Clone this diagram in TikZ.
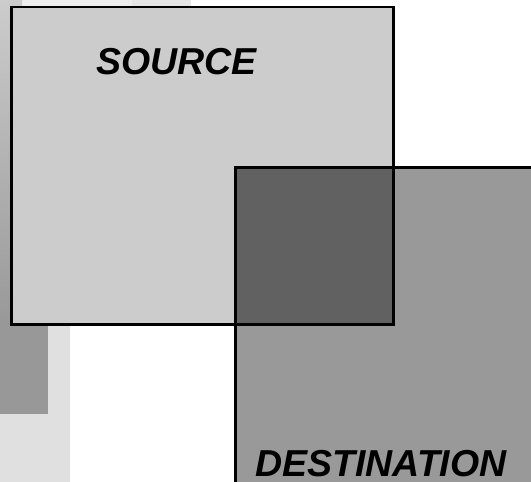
\documentclass[tikz,border=0pt]{standalone}
\usepackage{fontspec}
\setmainfont{Liberation Sans}
\definecolor{srcfill}{HTML}{CCCCCC}
\definecolor{dstfill}{HTML}{999999}
\definecolor{overlapfill}{HTML}{616161}
\definecolor{stripA}{HTML}{EEEEEE}
\definecolor{stripB}{HTML}{E6E6E6}
\definecolor{paleblock}{HTML}{E0E0E0}
\definecolor{darkblock}{HTML}{989898}
\definecolor{shadetop}{HTML}{CCCCCC}
\definecolor{shadebot}{HTML}{999999}
\begin{document}
\begin{tikzpicture}[x=1bp,y=-1bp,
  framebox/.style={draw=black,line width=2.5bp},
  caption/.style={inner sep=0pt,anchor=base west,font=\fontsize{37.5bp}{40bp}\selectfont\bfseries\itshape}]
\useasboundingbox (0,0) rectangle (531,482);
% background blocks
\fill[stripA] (22,0) rectangle (132,20);
\fill[stripB] (132,0) rectangle (191,20);
\fill[paleblock] (0,320) rectangle (70,482);
\shade[top color=shadetop,bottom color=shadebot] (0,0) rectangle (22,321);
\fill[darkblock] (0,320) rectangle (48,414);
% the two boxes and their overlap
\coordinate (s1) at (11.5,7);
\coordinate (s2) at (393.5,324.5);
\coordinate (d1) at (235.5,167.5);
\coordinate (d2) at (545,495);
\fill[srcfill] (s1) rectangle (s2);
\fill[dstfill] (d1) rectangle (d2);
\fill[overlapfill] (d1) rectangle (s2);
\draw[framebox] (s1) rectangle (s2);
\draw[framebox] (d1) rectangle (d2);
% labels
\node[caption] (src) at (96,75) {SOURCE};
\node[caption] (dst) at (255,476) {DESTINATION};
\end{tikzpicture}
\end{document}
